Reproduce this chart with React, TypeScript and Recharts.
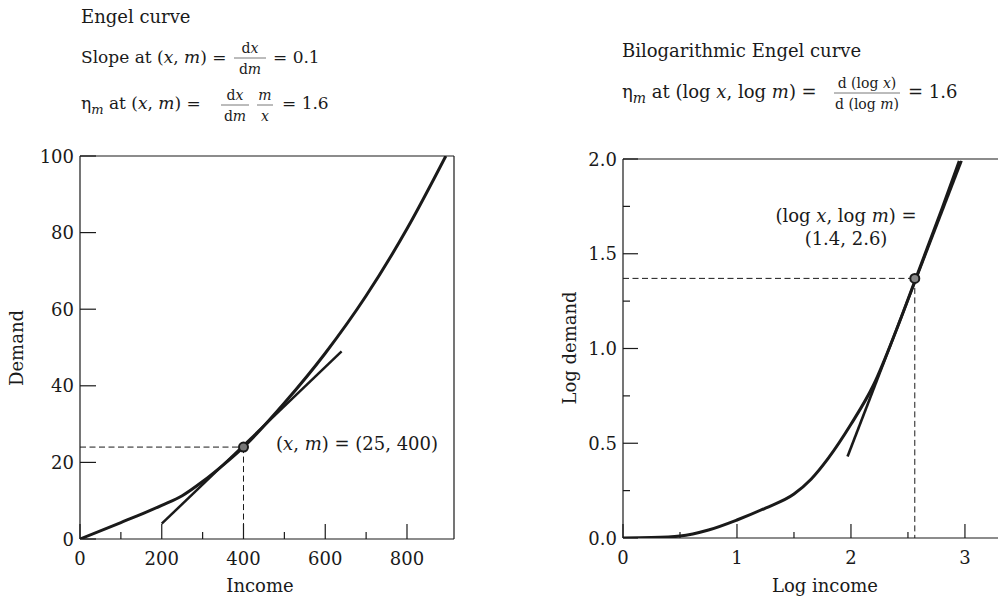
import React from 'react';
import { LineChart, Line, XAxis, YAxis, ReferenceLine, ReferenceDot } from 'recharts';

// Engel curve (income -> demand)
const incomeLevels = [0, 100, 155, 200, 250, 300, 350, 400, 500, 600, 700, 800, 895];
const demandLevels = [0, 4.3, 6.7, 8.8, 11.3, 15, 19.3, 24, 35.5, 48.5, 63.5, 81, 100];
const tangentIncome = [200, 640];
const tangentDemand = [4, 49];
const pointIncome = 400;
const pointDemand = 24;

const incomeTicks = [0, 100, 200, 300, 400, 500, 600, 700, 800];
const incomeLabels = [0, 200, 400, 600, 800];
const demandTicks = [0, 20, 40, 60, 80, 100];

// bilogarithmic Engel curve
const logIncome = [0, 0.25, 0.5, 0.75, 1.0, 1.25, 1.5, 1.65, 1.8, 2.0, 2.2, 2.4, 2.6, 2.8, 2.95];
const logDemand = [0, 0.002, 0.01, 0.042, 0.095, 0.158, 0.232, 0.31, 0.42, 0.6, 0.81, 1.1, 1.42, 1.74, 1.99];
const logTangentX = [1.97, 2.97];
const logTangentY = [0.43, 1.99];
const logPointX = 2.56;
const logPointY = 1.37;

const logIncomeTicks = [0, 0.5, 1, 1.5, 2, 2.5, 3];
const logIncomeLabels = [0, 1, 2, 3];
const logDemandTicks = [0, 0.25, 0.5, 0.75, 1, 1.25, 1.5, 1.75, 2];
const logDemandLabels = [0, 0.5, 1, 1.5, 2];

const pairs = (xs: number[], ys: number[]) => xs.map((x, i) => ({ x, y: ys[i] }));

const FONT = '"DejaVu Serif", serif';
const INK = '#1a1a1a';

const xTick = (labels: number[], majorLen: number, minorLen: number, fmt: (v: number) => string) => (props: any) => {
  const { x, y, payload } = props;
  const v = payload.value;
  const isLabel = labels.includes(v);
  return (
    <g>
      <line x1={x} x2={x} y1={y} y2={y - (isLabel ? majorLen : minorLen)} stroke={INK} strokeWidth={1.2} />
      {isLabel && (
        <text x={x} y={y + 26} textAnchor='middle' fontFamily={FONT} fontSize={18} fill={INK}>{fmt(v)}</text>
      )}
    </g>
  );
};

const yTick = (labels: number[], majorLen: number, minorLen: number, fmt: (v: number) => string) => (props: any) => {
  const { x, y, payload } = props;
  const v = payload.value;
  const isLabel = labels.includes(v);
  return (
    <g>
      <line x1={x} x2={x + (isLabel ? majorLen : minorLen)} y1={y} y2={y} stroke={INK} strokeWidth={1.2} />
      {isLabel && (
        <text x={x - 6} y={y + 6.5} textAnchor='end' fontFamily={FONT} fontSize={18} fill={INK}>{fmt(v)}</text>
      )}
    </g>
  );
};

function EngelChart() {
  return (
    <LineChart width={470} height={600} margin={{ top: 156, right: 16, bottom: 31, left: 40 }}>
      <XAxis dataKey='x' type='number' domain={[0, 915]} ticks={incomeTicks} interval={0}
        tickLine={false} tickSize={0} tickMargin={0} axisLine={{ stroke: INK, strokeWidth: 1.2 }}
        tick={xTick(incomeLabels, 15, 7, (v) => String(v))} height={30} allowDataOverflow />
      <YAxis type='number' domain={[0, 100]} ticks={demandTicks} interval={0}
        tickLine={false} tickSize={0} tickMargin={0} axisLine={{ stroke: INK, strokeWidth: 1.2 }}
        tick={yTick(demandTicks, 16, 16, (v) => String(v))} width={40} allowDataOverflow />
      <ReferenceLine y={100} stroke={INK} strokeWidth={1.2} />
      <ReferenceLine x={915} stroke={INK} strokeWidth={1.2} />
      <Line data={pairs([0, pointIncome], [pointDemand, pointDemand])} dataKey='y' stroke={INK} strokeWidth={1}
        strokeDasharray='6 3.5' dot={false} isAnimationActive={false} />
      <Line data={pairs([pointIncome, pointIncome], [pointDemand, 0])} dataKey='y' stroke={INK} strokeWidth={1}
        strokeDasharray='6 3.5' dot={false} isAnimationActive={false} />
      <Line data={pairs(incomeLevels, demandLevels)} dataKey='y' type='monotone' stroke={INK} strokeWidth={3}
        dot={false} isAnimationActive={false} />
      <Line data={pairs(tangentIncome, tangentDemand)} dataKey='y' stroke={INK} strokeWidth={2.5}
        dot={false} isAnimationActive={false} />
      <ReferenceDot x={pointIncome} y={pointDemand} r={4.5} fill='#777' stroke={INK} strokeWidth={2} />
    </LineChart>
  );
}

function LogEngelChart() {
  return (
    <LineChart width={478} height={600} margin={{ top: 159, right: 0, bottom: 32, left: 63 }}>
      <XAxis dataKey='x' type='number' domain={[0, 3.29]} ticks={logIncomeTicks} interval={0}
        tickLine={false} tickSize={0} tickMargin={0} axisLine={{ stroke: INK, strokeWidth: 1.2 }}
        tick={xTick(logIncomeLabels, 14, 6, (v) => String(v))} height={30} allowDataOverflow />
      <YAxis type='number' domain={[0, 2]} ticks={logDemandTicks} interval={0}
        tickLine={false} tickSize={0} tickMargin={0} axisLine={{ stroke: INK, strokeWidth: 1.2 }}
        tick={yTick(logDemandLabels, 15, 7, (v) => v.toFixed(1))} width={40} allowDataOverflow />
      <ReferenceLine y={2} stroke={INK} strokeWidth={1.2} />
      <Line data={pairs([0, logPointX], [logPointY, logPointY])} dataKey='y' stroke={INK} strokeWidth={1}
        strokeDasharray='6 3.5' dot={false} isAnimationActive={false} />
      <Line data={pairs([logPointX, logPointX], [logPointY, 0])} dataKey='y' stroke={INK} strokeWidth={1}
        strokeDasharray='6 3.5' dot={false} isAnimationActive={false} />
      <Line data={pairs(logIncome, logDemand)} dataKey='y' type='monotone' stroke={INK} strokeWidth={3}
        dot={false} isAnimationActive={false} />
      <Line data={pairs(logTangentX, logTangentY)} dataKey='y' stroke={INK} strokeWidth={2.6}
        dot={false} isAnimationActive={false} />
      <ReferenceDot x={logPointX} y={logPointY} r={4.5} fill='#888' stroke={INK} strokeWidth={2} />
    </LineChart>
  );
}

function Frac({ cx, num, den, y, w }: { cx: number; num: React.ReactNode; den: React.ReactNode; y: number; w: number }) {
  // y = position of the fraction bar
  return (
    <g>
      <text x={cx} y={y - 5} textAnchor='middle' fontSize={14}>{num}</text>
      <line x1={cx - w / 2} x2={cx + w / 2} y1={y} y2={y} stroke='#555' strokeWidth={0.8} />
      <text x={cx} y={y + 16} textAnchor='middle' fontSize={14}>{den}</text>
    </g>
  );
}

const I = ({ children }: { children: React.ReactNode }) => <tspan fontStyle='italic'>{children}</tspan>;

function Annotations() {
  return (
    <svg width={998} height={600} style={{ position: 'absolute', left: 0, top: 0, pointerEvents: 'none' }}
      fontFamily={FONT} fill={INK}>
      {/* left headings */}
      <text x={81} y={23} fontSize={18}>Engel curve</text>
      <text x={81} y={63} fontSize={17}>Slope at (<I>x</I>, <I>m</I>) =</text>
      <Frac cx={250} y={58} w={32} num={<>d<I>x</I></>} den={<>d<I>m</I></>} />
      <text x={273} y={63} fontSize={17}>= 0.1</text>

      <text x={81} y={109} fontSize={17}>η<tspan fontSize={13} fontStyle='italic' dy={5}>m</tspan>
        <tspan dy={-5}> at (</tspan><I>x</I>, <I>m</I>) =</text>
      <Frac cx={235} y={105} w={28} num={<>d<I>x</I></>} den={<>d<I>m</I></>} />
      <Frac cx={265} y={105} w={16} num={<I>m</I>} den={<I>x</I>} />
      <text x={282} y={109} fontSize={17}>= 1.6</text>

      {/* right headings */}
      <text x={622} y={57} fontSize={18}>Bilogarithmic Engel curve</text>
      <text x={622} y={98} fontSize={18}>η<tspan fontSize={14} fontStyle='italic' dy={5}>m</tspan>
        <tspan dy={-5}> at (log </tspan><I>x</I>, log <I>m</I>) =</text>
      <Frac cx={867} y={93} w={66} num={<>d (log <I>x</I>)</>} den={<>d (log <I>m</I>)</>} />
      <text x={908} y={98} fontSize={18}>= 1.6</text>

      {/* point labels */}
      <text x={276} y={450} fontSize={18}>(<I>x</I>, <I>m</I>) = (25, 400)</text>
      <text x={846} y={222} fontSize={18} textAnchor='middle'>(log <I>x</I>, log <I>m</I>) =</text>
      <text x={846} y={245} fontSize={18} textAnchor='middle'>(1.4, 2.6)</text>

      {/* axis titles */}
      <text x={260} y={592} fontSize={18} textAnchor='middle'>Income</text>
      <text x={0} y={0} fontSize={18} textAnchor='middle' transform='translate(23 348) rotate(-90)'>Demand</text>
      <text x={825} y={592} fontSize={18} textAnchor='middle'>Log income</text>
      <text x={0} y={0} fontSize={18} textAnchor='middle' transform='translate(576 348) rotate(-90)'>Log demand</text>
    </svg>
  );
}

export default function App() {
  return (
    <div style={{ position: 'absolute', left: 0, top: 0, width: 998, height: 600, background: '#fff', overflow: 'hidden' }}>
      <div style={{ position: 'absolute', left: 0, top: 0 }}>
        <EngelChart />
      </div>
      <div style={{ position: 'absolute', left: 520, top: 0 }}>
        <LogEngelChart />
      </div>
      <Annotations />
    </div>
  );
}
